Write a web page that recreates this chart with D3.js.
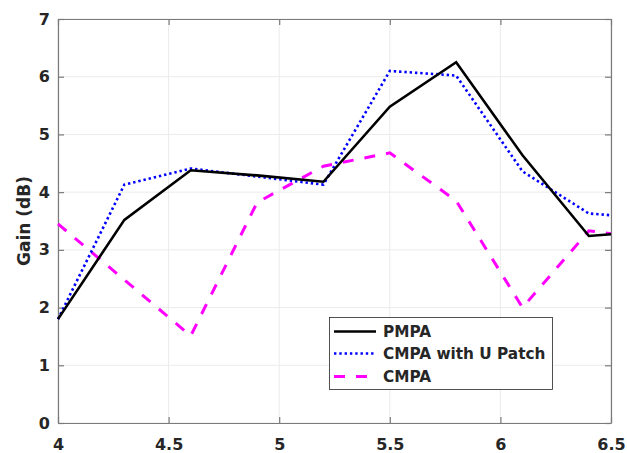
<!DOCTYPE html>
<html>
<head>
<meta charset="utf-8">
<script src="https://cdn.jsdelivr.net/npm/d3@7"></script>
<style>
  html, body { margin: 0; padding: 0; background: #fff; }
  svg { display: block; }
  text { font-family: "DejaVu Sans", sans-serif; font-weight: bold; fill: #262626; }
</style>
</head>
<body>
<svg id="chart" width="627" height="453"></svg>
<script>
const freq = [4, 4.3, 4.6, 4.9, 5.2, 5.5, 5.8, 6.1, 6.4, 6.5];
const pmpa = [1.80, 3.52, 4.38, 4.29, 4.18, 5.48, 6.25, 4.64, 3.24, 3.27];
const cmpaU = [1.80, 4.13, 4.41, 4.27, 4.13, 6.10, 6.02, 4.36, 3.63, 3.60];
const cmpa = [3.45, 2.48, 1.51, 3.82, 4.45, 4.68, 3.85, 2.00, 3.33, 3.28];
const seriesNames = ["PMPA", "CMPA with U Patch", "CMPA"];
const xTicks = [4, 4.5, 5, 5.5, 6, 6.5];
const yTicks = [0, 1, 2, 3, 4, 5, 6, 7];
const yLabel = "Gain (dB)";

const svg = d3.select("#chart");
const L = 58, R = 611, T = 19, B = 423;
const x = d3.scaleLinear().domain([4, 6.5]).range([L, R]);
const y = d3.scaleLinear().domain([0, 7]).range([B, T]);

// grid
const grid = svg.append("g");
grid.selectAll(".gx").data(xTicks).enter().append("line")
  .attr("x1", d => x(d)).attr("x2", d => x(d)).attr("y1", T).attr("y2", B)
  .attr("stroke", "#ebebeb").attr("stroke-width", 1);
grid.selectAll(".gy").data(yTicks).enter().append("line")
  .attr("y1", d => y(d)).attr("y2", d => y(d)).attr("x1", L).attr("x2", R)
  .attr("stroke", "#ebebeb").attr("stroke-width", 1);

// axes
const axisColor = "#7a7a7a";
const tickLen = 6;
const bottomAxis = d3.axisBottom(x).tickValues(xTicks).tickSizeInner(-tickLen).tickSizeOuter(0).tickPadding(16).tickFormat(d3.format("~g"));
const topAxis = d3.axisTop(x).tickValues(xTicks).tickSizeInner(-tickLen).tickSizeOuter(0).tickFormat("");
const leftAxis = d3.axisLeft(y).tickValues(yTicks).tickSizeInner(-tickLen).tickSizeOuter(0).tickPadding(8).tickFormat(d3.format("d"));
const rightAxis = d3.axisRight(y).tickValues(yTicks).tickSizeInner(-tickLen).tickSizeOuter(0).tickFormat("");

function style(g) {
  g.select(".domain").attr("stroke", axisColor).attr("stroke-width", 1.2);
  g.selectAll(".tick line").attr("stroke", axisColor).attr("stroke-width", 1.2);
  g.selectAll(".tick text").attr("fill", "#262626").style("font-size", "16px")
    .style("font-family", "'DejaVu Sans', sans-serif").style("font-weight", "bold");
}
svg.append("g").attr("transform", `translate(0,${B})`).call(bottomAxis).call(style);
svg.append("g").attr("transform", `translate(0,${T})`).call(topAxis).call(style);
svg.append("g").attr("transform", `translate(${L},0)`).call(leftAxis).call(style);
svg.append("g").attr("transform", `translate(${R},0)`).call(rightAxis).call(style);

// y label
svg.append("text")
  .attr("transform", `translate(30,${(T + B) / 2}) rotate(-90)`)
  .attr("text-anchor", "middle")
  .style("font-size", "17px")
  .text(yLabel);

// lines
const line = d3.line().x(d => x(d[0])).y(d => y(d[1]));
const styles = [
  { color: "#000000", width: 2.6, dash: null },
  { color: "#0000ff", width: 2.6, dash: "2.4,2.9" },
  { color: "#ff00ff", width: 3, dash: "11,11" }
];
const allSeries = [pmpa, cmpaU, cmpa];
const plot = svg.append("g");
[2, 1, 0].forEach(i => {
  plot.append("path")
    .datum(freq.map((f, j) => [f, allSeries[i][j]]))
    .attr("d", line)
    .attr("fill", "none")
    .attr("stroke", styles[i].color)
    .attr("stroke-width", styles[i].width)
    .attr("stroke-dasharray", styles[i].dash)
    .attr("stroke-linejoin", "miter");
});

// legend
const lg = svg.append("g");
lg.append("rect").attr("x", 329.5).attr("y", 317.5).attr("width", 223).attr("height", 72)
  .attr("fill", "#fff").attr("stroke", "#262626").attr("stroke-width", 0.8);
const rowsY = [331.5, 353.5, 376.5];
seriesNames.forEach((name, i) => {
  lg.append("line").attr("x1", 334).attr("x2", 376).attr("y1", rowsY[i]).attr("y2", rowsY[i])
    .attr("stroke", styles[i].color).attr("stroke-width", styles[i].width)
    .attr("stroke-dasharray", styles[i].dash);
  lg.append("text").attr("x", 383).attr("y", rowsY[i]).attr("dy", "0.36em")
    .style("font-size", "15.3px").attr("fill", "#000").text(name);
});
</script>
</body>
</html>
